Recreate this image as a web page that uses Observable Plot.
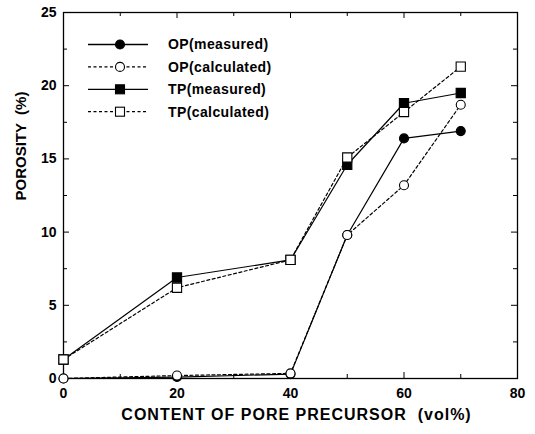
<!DOCTYPE html>
<html><head><meta charset="utf-8">
<script src="https://cdn.jsdelivr.net/npm/d3@7"></script>
<script src="https://cdn.jsdelivr.net/npm/@observablehq/plot@0.6"></script>
<style>
html,body{margin:0;padding:0;background:#fff;}
</style>
</head><body><div id="chart"></div>
<script>
const contents = [0, 20, 40, 50, 60, 70];
const opMeasured = [0, 0.1, 0.3, 9.8, 16.4, 16.9];
const opCalculated = [0, 0.2, 0.35, 9.8, 13.2, 18.7];
const tpMeasured = [1.3, 6.9, 8.1, 14.6, 18.8, 19.5];
const tpCalculated = [1.3, 6.2, 8.1, 15.1, 18.2, 21.3];
const seriesNames = ["OP(measured)", "OP(calculated)", "TP(measured)", "TP(calculated)"];
const xMajor = [0, 20, 40, 60, 80];
const xMinor = [10, 30, 50, 70];
const yMajor = [0, 5, 10, 15, 20, 25];
const yMinor = [2.5, 7.5, 12.5, 17.5, 22.5];
const xTitle = "CONTENT OF PORE PRECURSOR \u00a0(vol%)";
const yTitle = "POROSITY \u00a0(%)";

const seriesDefs = [
  {name: seriesNames[0], values: opMeasured, symbol: "circle", fill: "black", dash: null, lw: 1.6},
  {name: seriesNames[1], values: opCalculated, symbol: "circle", fill: "white", dash: "3,2.5", lw: 1.2},
  {name: seriesNames[2], values: tpMeasured, symbol: "square", fill: "black", dash: null, lw: 1.2},
  {name: seriesNames[3], values: tpCalculated, symbol: "square", fill: "white", dash: "3,2.5", lw: 1.2}
];
const rows = seriesDefs.flatMap(s => contents.map((c, i) => ({series: s.name, x: c, y: s.values[i]})));

const W = 535, H = 434, mL = 63, mR = 18, mT = 12, mB = 56;
const pw = W - mL - mR, ph = H - mT - mB;
const font = "'Liberation Sans', Arial, Helvetica, sans-serif";

function legendMark() {
  const g = d3.create("svg:g");
  seriesDefs.forEach((s, i) => {
    const y = 44.5 + i * 22.4;
    g.append("line").attr("x1", 88).attr("x2", 148).attr("y1", y).attr("y2", y)
      .attr("stroke", "black").attr("stroke-width", s.lw)
      .attr("stroke-dasharray", s.dash);
    if (s.symbol === "circle") {
      g.append("circle").attr("cx", 120).attr("cy", y).attr("r", 4.5)
        .attr("fill", s.fill).attr("stroke", "black").attr("stroke-width", 1.1);
    } else {
      g.append("rect").attr("x", 115.5).attr("y", y - 4.5).attr("width", 9).attr("height", 9)
        .attr("fill", s.fill).attr("stroke", "black").attr("stroke-width", 1.1);
    }
    g.append("text").attr("x", 168).attr("y", y).attr("dy", "0.35em")
      .attr("text-anchor", "start").attr("letter-spacing", "0.4")
      .attr("font-family", font).attr("font-weight", "bold").attr("font-size", 14)
      .attr("fill", "black").text(s.name);
  });
  return g.node();
}

const lineMarks = seriesDefs.map(s => Plot.line(rows.filter(d => d.series === s.name), {
  x: "x", y: "y", stroke: "black", strokeWidth: 1.2, strokeDasharray: s.dash
}));
const order = [0, 2, 1, 3];
const dotMarks = order.map(k => {
  const s = seriesDefs[k];
  return Plot.dot(rows.filter(d => d.series === s.name), {
    x: "x", y: "y", symbol: s.symbol, r: s.symbol === "circle" ? 4.5 : 5.2,
    fill: s.fill, stroke: "black", strokeWidth: 1.1
  });
});

const chart = Plot.plot({
  width: W, height: H,
  marginLeft: mL, marginRight: mR, marginTop: mT, marginBottom: mB,
  x: {domain: [0, 80], label: null},
  y: {domain: [0, 25], label: null},
  style: {fontFamily: font, background: "white", color: "black"},
  marks: [
    Plot.axisX({ticks: xMajor, tickSize: 0, tickPadding: 10, fontSize: 14, fontWeight: "bold", label: null}),
    Plot.axisY({ticks: yMajor, tickSize: 0, tickPadding: 7, fontSize: 14, fontWeight: "bold", label: null}),
    Plot.ruleX(xMajor, {x: d => d, insetTop: ph - 6, stroke: "black"}),
    Plot.ruleX(xMajor, {x: d => d, insetBottom: ph - 6, stroke: "black"}),
    Plot.ruleX(xMinor, {x: d => d, insetTop: ph - 4, stroke: "black"}),
    Plot.ruleX(xMinor, {x: d => d, insetBottom: ph - 4, stroke: "black"}),
    Plot.ruleY(yMajor, {y: d => d, insetRight: pw - 6, stroke: "black"}),
    Plot.ruleY(yMajor, {y: d => d, insetLeft: pw - 6, stroke: "black"}),
    Plot.ruleY(yMinor, {y: d => d, insetRight: pw - 4, stroke: "black"}),
    Plot.ruleY(yMinor, {y: d => d, insetLeft: pw - 4, stroke: "black"}),
    Plot.frame({stroke: "black", strokeWidth: 1.3}),
    ...lineMarks,
    ...dotMarks,
    Plot.text([xTitle], {frameAnchor: "bottom", dy: 41, dx: 6, fontSize: 16, fontWeight: "bold", fill: "black"}),
    Plot.text([yTitle], {frameAnchor: "left", dx: -42, dy: 5, rotate: -90, fontSize: 15, fontWeight: "bold", fill: "black"}),
    legendMark
  ]
});
chart.querySelectorAll("text").forEach(t => {
  if (t.textContent === xTitle) t.setAttribute("letter-spacing", "1");
});
document.getElementById("chart").appendChild(chart);
</script>
</body></html>
